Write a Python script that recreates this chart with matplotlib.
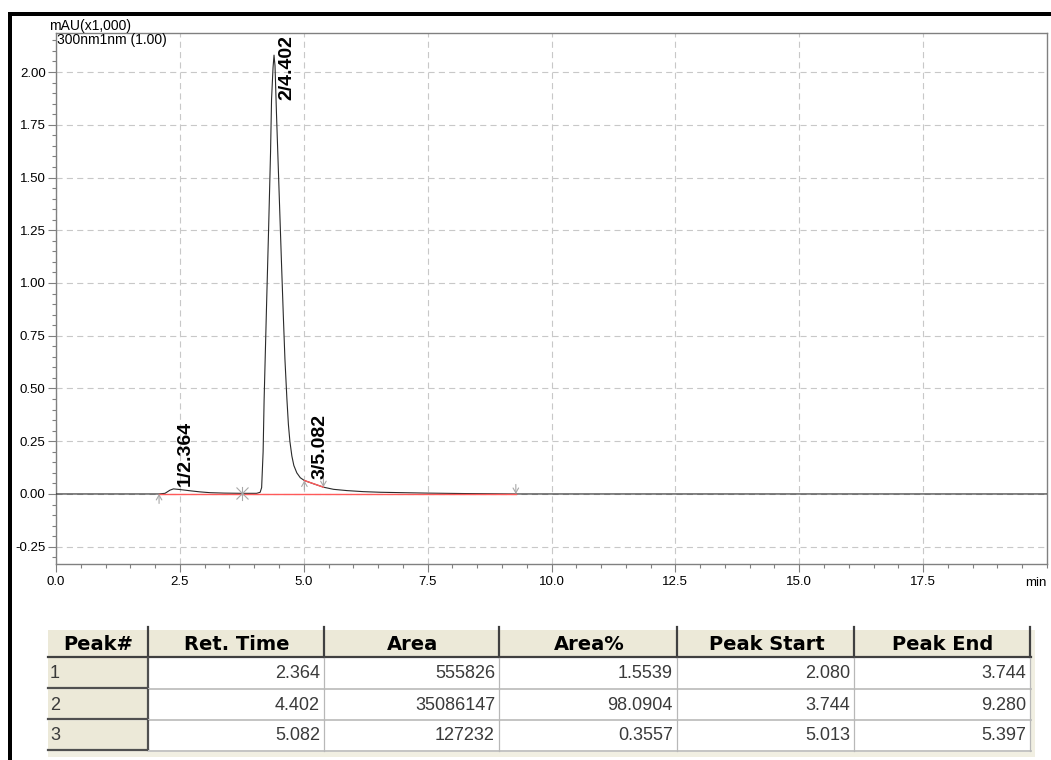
import matplotlib
matplotlib.use("Agg")
import matplotlib.pyplot as plt
from matplotlib.patches import Rectangle
from matplotlib.ticker import MultipleLocator, FixedLocator, FormatStrFormatter
import numpy as np

# ---------------- data ----------------
# chromatogram trace (time in min, signal in mAU x1,000)
time_min = [0.00, 2.08, 2.20, 2.30, 2.37, 2.50, 2.71, 2.90, 3.11, 3.40, 3.74,
            4.05, 4.12, 4.15, 4.18, 4.20, 4.25, 4.29, 4.33, 4.35, 4.38, 4.40,
            4.42, 4.45, 4.50, 4.55, 4.59, 4.62, 4.66, 4.69, 4.72, 4.76, 4.80,
            4.86, 4.93, 5.01, 5.08, 5.20, 5.30, 5.40, 5.60, 5.87, 6.20, 6.55,
            7.00, 7.50, 8.20, 9.28, 20.00]
signal = [0.000, 0.000, 0.003, 0.018, 0.024, 0.021, 0.015, 0.010, 0.006, 0.004, 0.003,
          0.003, 0.008, 0.030, 0.200, 0.445, 0.900, 1.250, 1.620, 1.870, 2.020, 2.080,
          2.030, 1.800, 1.450, 1.100, 0.830, 0.640, 0.450, 0.330, 0.250, 0.180, 0.135,
          0.100, 0.077, 0.064, 0.058, 0.048, 0.040, 0.032, 0.022, 0.016, 0.011, 0.008,
          0.006, 0.004, 0.002, 0.000, 0.000]

# peak table
peak_no = [1, 2, 3]
ret_time = [2.364, 4.402, 5.082]
area = [555826, 35086147, 127232]
area_pct = [1.5539, 98.0904, 0.3557]
peak_start = [2.080, 3.744, 5.013]
peak_end = [3.744, 9.280, 5.397]
peak_rider = [False, False, True]

table_header = ["Peak#", "Ret. Time", "Area", "Area%", "Peak Start", "Peak End"]

x_major = [0.0, 2.5, 5.0, 7.5, 10.0, 12.5, 15.0, 17.5]

# ---------------- figure ----------------
W, H = 1051, 760
fig = plt.figure(figsize=(W / 100, H / 100), dpi=100)
fig.patch.set_facecolor("white")

plt.rcParams["font.family"] = ["Liberation Sans", "DejaVu Sans"]

# chart axes
L, R, T, B = 56, 1047, 33, 564
ax = fig.add_axes([L / W, 1 - B / H, (R - L) / W, (B - T) / H])
ax.set_xlim(0, 20)
ax.set_ylim(-0.332, 2.185)

grey = "#808080"
for s in ax.spines.values():
    s.set_color(grey)
    s.set_linewidth(1.0)

ax.xaxis.set_major_locator(FixedLocator(x_major))
ax.xaxis.set_minor_locator(MultipleLocator(0.5))
ax.yaxis.set_major_locator(MultipleLocator(0.25))
ax.yaxis.set_minor_locator(MultipleLocator(0.05))
ax.xaxis.set_major_formatter(FormatStrFormatter("%.1f"))
ax.yaxis.set_major_formatter(FormatStrFormatter("%.2f"))
ax.tick_params(which="major", direction="out", length=6, width=0.8, color=grey,
               labelsize=9.5, labelcolor="black", pad=2.5)
ax.tick_params(which="minor", direction="out", length=3, width=0.8, color=grey)
ax.tick_params(axis="y", which="major", pad=1.5)

ax.grid(True, which="major", color="#c8c8c8", linestyle=(0, (5.5, 3.8)), linewidth=0.8)
ax.set_axisbelow(True)

# trace
ax.plot(time_min, signal, color="#2a2a2a", lw=0.8, zorder=3)

# baselines (red)
red = "#ff5a5a"
for s, e, rider in zip(peak_start, peak_end, peak_rider):
    if rider:
        ys, ye = np.interp(s, time_min, signal), np.interp(e, time_min, signal)
    else:
        ys, ye = 0.0, 0.0
    ax.plot([s, e], [ys, ye], color=red, lw=1.0, zorder=4)

# start/end markers
mk = "#a8a8a8"
dy = 0.045
starts_set = set(peak_start)
ends_set = set(peak_end)
for t in sorted(starts_set | ends_set):
    y = float(np.interp(t, time_min, signal))
    if t in starts_set and t in ends_set:
        ax.plot([t, t], [y - 0.032, y + 0.032], color=mk, lw=0.8, zorder=5)
        ax.plot([t], [y], marker="x", ms=8, mew=0.8, color=mk, zorder=5)
    elif t in starts_set:
        ax.annotate("", xy=(t, y), xytext=(t, y - dy),
                    arrowprops=dict(arrowstyle="->,head_length=0.35,head_width=0.2",
                                    color=mk, lw=0.8, shrinkA=0, shrinkB=0), zorder=5)
    else:
        ax.annotate("", xy=(t, y), xytext=(t, y + dy),
                    arrowprops=dict(arrowstyle="->,head_length=0.35,head_width=0.2",
                                    color=mk, lw=0.8, shrinkA=0, shrinkB=0), zorder=5)

# peak labels
fig.canvas.draw()
renderer = fig.canvas.get_renderer()
ymax = ax.get_ylim()[1]
for n, rt in zip(peak_no, ret_time):
    h = float(np.interp(rt, time_min, signal))
    txt = ax.text(rt + 0.25, h + 0.015, f"{n}/{rt:.3f}", rotation=90,
                  ha="center", va="bottom", fontsize=14, fontweight="bold",
                  color="black", zorder=6)
    bb = txt.get_window_extent(renderer=renderer)
    top_data = ax.transData.inverted().transform((bb.x1, bb.y1))[1]
    if top_data > ymax - 0.01:
        txt.set_va("top")
        txt.set_y(ymax - 0.01)

# axis texts
ax.text(-0.007, 1.0057, "mAU(x1,000)", transform=ax.transAxes, ha="left",
        va="baseline", fontsize=10, color="black")
ax.text(0.001, 0.979, "300nm1nm (1.00)", transform=ax.transAxes, ha="left",
        va="baseline", fontsize=10, color="black")
ax.text(1.0, -0.0414, "min", transform=ax.transAxes, ha="right",
        va="baseline", fontsize=9.5, color="black")

# ---------------- overlay in pixel coords: frame + table ----------------
ov = fig.add_axes([0, 0, 1, 1], zorder=-1)
ov.set_xlim(0, W)
ov.set_ylim(H, 0)
ov.axis("off")

# thick black frame (left and top)
ov.add_patch(Rectangle((8, 12), 4, H - 12, color="black", lw=0))
ov.add_patch(Rectangle((8, 12), W - 8, 3.5, color="black", lw=0))

beige = "#ece9d8"
col_edges = [48, 149, 325, 500, 678, 855, 1031]
row_edges = [630, 657, 689, 720, 751]

# background
ov.add_patch(Rectangle((col_edges[0], row_edges[0]), 1035 - col_edges[0],
                       757 - row_edges[0], color="#f1efe2", lw=0))
# header
ov.add_patch(Rectangle((col_edges[0], row_edges[0]), col_edges[-1] - col_edges[0],
                       row_edges[1] - row_edges[0], color=beige, lw=0))
ov.plot([col_edges[0], col_edges[-1]], [row_edges[1] - 0.5] * 2, color="#404040", lw=1.6)
for x in col_edges[1:]:
    ov.plot([x - 1, x - 1], [row_edges[0] - 3, row_edges[1]], color="#404040", lw=1.6)
for i, lab in enumerate(table_header):
    cx = (col_edges[i] + col_edges[i + 1]) / 2
    ov.text(cx, (row_edges[0] + row_edges[1]) / 2 + 1, lab, ha="center", va="center",
            fontsize=14, fontweight="bold", family=["DejaVu Sans"], color="black")

# data rows
cell_font = ["Liberation Sans", "DejaVu Sans"]
for r in range(len(peak_no)):
    y0, y1 = row_edges[r + 1] + 1, row_edges[r + 2]
    # first column beige bevel cell
    ov.add_patch(Rectangle((col_edges[0], y0), col_edges[1] - col_edges[0] - 1, y1 - y0,
                           facecolor=beige, edgecolor="none"))
    ov.plot([col_edges[0], col_edges[1] - 1], [y1 - 1, y1 - 1], color="#505050", lw=1.6)
    ov.plot([col_edges[1] - 1, col_edges[1] - 1], [y0, y1 - 1], color="#505050", lw=1.6)
    # white data cells
    ov.add_patch(Rectangle((col_edges[1], y0), col_edges[-1] - col_edges[1], y1 - y0 - 1,
                           facecolor="white", edgecolor="none"))
    ov.plot([col_edges[1], col_edges[-1]], [y1 - 0.5, y1 - 0.5], color="#c4c4c4", lw=1.4)
    for x in col_edges[2:]:
        ov.plot([x - 1, x - 1], [y0, y1], color="#b8b8b8", lw=0.9)
    ym = (y0 + y1) / 2
    ov.text(col_edges[0] + 2, ym, f"{peak_no[r]}", ha="left", va="center",
            fontsize=13, family=cell_font, color="#3a3a3a")
    vals = [f"{ret_time[r]:.3f}", f"{area[r]}", f"{area_pct[r]:.4f}",
            f"{peak_start[r]:.3f}", f"{peak_end[r]:.3f}"]
    for j, v in enumerate(vals):
        ov.text(col_edges[j + 2] - 5, ym, v, ha="right", va="center",
                fontsize=13, family=cell_font, color="#3a3a3a")

fig.savefig("out.png", dpi=100, facecolor="white")
